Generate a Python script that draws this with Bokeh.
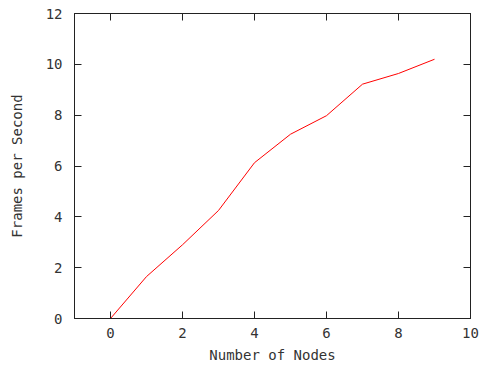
from bokeh.plotting import figure
from bokeh.models import Range1d, FixedTicker, LinearAxis
from bokeh.embed import file_html
from bokeh.resources import INLINE

nodes = [0, 1, 2, 3, 4, 5, 6, 7, 8, 9]
fps = [0.0, 1.65, 2.9, 4.25, 6.13, 7.25, 7.98, 9.22, 9.64, 10.2]
x_ticks = [0, 2, 4, 6, 8, 10]
y_ticks = [0, 2, 4, 6, 8, 10, 12]

FONT = "DejaVu Sans Mono"
TXT = "#333333"
AX = "#222222"

p = figure(width=486, height=367, output_backend="svg", toolbar_location=None,
           x_range=Range1d(-1, 10), y_range=Range1d(0, 12),
           x_axis_label="Number of Nodes", y_axis_label="Frames per Second",
           min_border_left=74, min_border_right=16, min_border_top=13,
           min_border_bottom=49)
p.grid.visible = False
p.outline_line_color = AX
p.background_fill_color = "white"
p.border_fill_color = "white"

p.line(nodes, fps, line_color="#ff0000", line_width=1)

for ax, ticks in ((p.xaxis[0], x_ticks), (p.yaxis[0], y_ticks)):
    ax.ticker = FixedTicker(ticks=ticks)
    ax.minor_tick_line_color = None
    ax.major_tick_in = 7
    ax.major_tick_out = 0
    ax.axis_line_color = AX
    ax.major_tick_line_color = AX
    ax.major_label_text_font = FONT
    ax.major_label_text_font_size = "14px"
    ax.major_label_text_color = TXT
    ax.axis_label_text_font = FONT
    ax.axis_label_text_font_size = "14px"
    ax.axis_label_text_font_style = "normal"
    ax.axis_label_text_color = TXT

p.xaxis[0].major_label_standoff = 9
p.xaxis[0].axis_label_standoff = 6
p.yaxis[0].major_label_standoff = 12
p.yaxis[0].axis_label_standoff = 18

for loc, ticks in (("above", x_ticks), ("right", y_ticks)):
    a = LinearAxis(ticker=FixedTicker(ticks=ticks))
    a.minor_tick_line_color = None
    a.major_tick_in = 7
    a.major_tick_out = 0
    a.axis_line_color = AX
    a.major_tick_line_color = AX
    a.major_label_overrides = {t: "" for t in ticks}
    a.major_label_standoff = 0
    p.add_layout(a, loc)

open("out.html", "w").write(file_html(p, INLINE))
